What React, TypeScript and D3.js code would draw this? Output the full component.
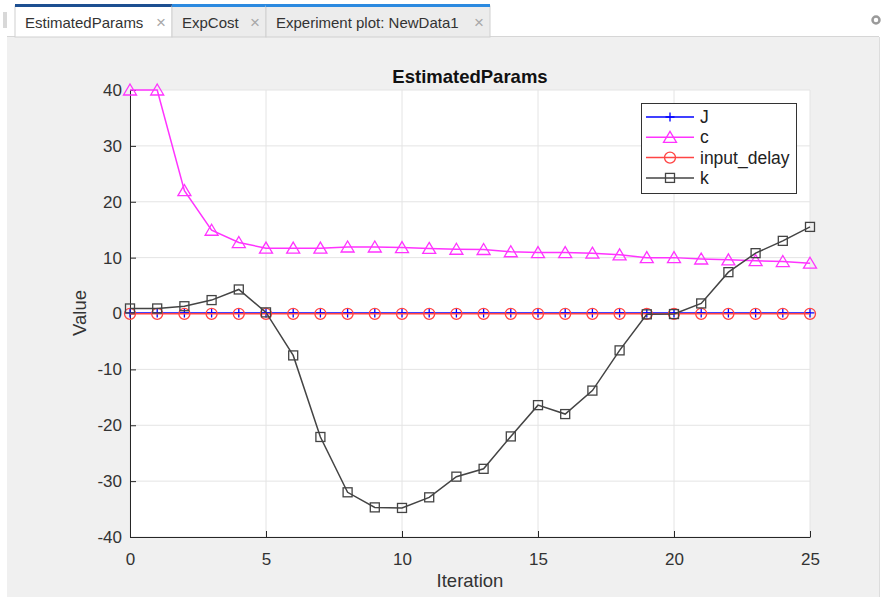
import * as d3 from "d3";
import { useEffect, useRef } from "react";

// data
const iterations = [0, 1, 2, 3, 4, 5, 6, 7, 8, 9, 10, 11, 12, 13, 14, 15, 16, 17, 18, 19, 20, 21, 22, 23, 24, 25];
const jValues = [0.1, 0.1, 0.1, 0.1, 0.1, 0.1, 0.1, 0.1, 0.1, 0.1, 0.1, 0.1, 0.1, 0.1, 0.1, 0.1, 0.1, 0.1, 0.1, 0.1, 0.1, 0.1, 0.1, 0.1, 0.1, 0.1];
const cValues = [40, 40, 22, 14.9, 12.7, 11.7, 11.7, 11.7, 11.9, 11.9, 11.8, 11.65, 11.5, 11.45, 11.05, 10.9, 10.9, 10.8, 10.5, 10.0, 10.0, 9.75, 9.6, 9.45, 9.3, 9.0];
const inputDelayValues = [-0.05, -0.05, -0.05, -0.05, -0.05, -0.05, -0.05, -0.05, -0.05, -0.05, -0.05, -0.05, -0.05, -0.05, -0.05, -0.05, -0.05, -0.05, -0.05, -0.05, -0.05, -0.05, -0.05, -0.05, -0.05, -0.05];
const kValues = [0.9, 0.9, 1.3, 2.4, 4.3, 0.2, -7.5, -22.1, -32.0, -34.7, -34.8, -32.9, -29.2, -27.8, -22.0, -16.4, -18.0, -13.8, -6.6, -0.15, -0.1, 1.8, 7.4, 10.8, 13.0, 15.5];

const xTicks = [0, 5, 10, 15, 20, 25];
const yTicks = [-40, -30, -20, -10, 0, 10, 20, 30, 40];
const tabLabels = ["EstimatedParams", "ExpCost", "Experiment plot: NewData1"];

type Marker = "plus" | "triangle" | "circle" | "square";

const series: { name: string; values: number[]; color: string; marker: Marker }[] = [
  { name: "J", values: jValues, color: "#0000ff", marker: "plus" },
  { name: "c", values: cValues, color: "#ff33ff", marker: "triangle" },
  { name: "input_delay", values: inputDelayValues, color: "#ff4444", marker: "circle" },
  { name: "k", values: kValues, color: "#444444", marker: "square" },
];

const FONT = "'Liberation Sans', Arial, Helvetica, sans-serif";

function drawMarker(sel: d3.Selection<SVGGElement, unknown, null, undefined>, marker: Marker, x: number, y: number, color: string) {
  if (marker === "plus") {
    sel.append("path")
      .attr("d", `M${x - 4.5},${y}H${x + 4.5}M${x},${y - 4.5}V${y + 4.5}`)
      .attr("stroke", color).attr("stroke-width", 1.3).attr("fill", "none");
  } else if (marker === "triangle") {
    sel.append("path")
      .attr("d", `M${x},${y - 6}L${x + 6.5},${y + 5}L${x - 6.5},${y + 5}Z`)
      .attr("stroke", color).attr("stroke-width", 1.3).attr("fill", "none");
  } else if (marker === "circle") {
    sel.append("circle")
      .attr("cx", x).attr("cy", y).attr("r", 5.5)
      .attr("stroke", color).attr("stroke-width", 1.3).attr("fill", "none");
  } else {
    sel.append("rect")
      .attr("x", x - 4.5).attr("y", y - 4.5).attr("width", 9).attr("height", 9)
      .attr("stroke", color).attr("stroke-width", 1.3).attr("fill", "none");
  }
}

export default function App() {
  const svgRef = useRef<SVGSVGElement>(null);

  useEffect(() => {
    if (!svgRef.current) return;
    const width = 889;
    const height = 599;
    const svg = d3.select(svgRef.current);
    svg.selectAll("*").remove();

    // window background
    svg.append("rect").attr("width", width).attr("height", height).attr("fill", "#ffffff");
    svg.append("rect").attr("x", 7).attr("y", 37).attr("width", 872).attr("height", 560).attr("fill", "#f0f0f0");
    svg.append("line").attr("x1", 7).attr("x2", 879).attr("y1", 36.5).attr("y2", 36.5).attr("stroke", "#d6d6d6");
    svg.append("line").attr("x1", 879.5).attr("x2", 879.5).attr("y1", 37).attr("y2", 597).attr("stroke", "#dddddd");

    // grip at left
    svg.append("rect").attr("x", 3).attr("y", 12).attr("width", 4).attr("height", 16).attr("fill", "#d8d8d8");

    // tabs
    const tabBounds = [[15, 172], [172, 266], [266, 490]];
    const tabs = svg.append("g");
    tabLabels.forEach((label, i) => {
      const [x0, x1] = tabBounds[i];
      const active = i === 0;
      tabs.append("rect").attr("x", x0).attr("y", 6).attr("width", x1 - x0).attr("height", 31)
        .attr("fill", active ? "#ffffff" : "#ececec").attr("stroke", "#d0d0d0").attr("stroke-width", 1);
      tabs.append("rect").attr("x", x0).attr("y", 4).attr("width", x1 - x0).attr("height", 3)
        .attr("fill", active ? "#1d4f91" : "#2b8ae0");
      tabs.append("text").attr("x", x0 + 10).attr("y", 28)
        .attr("font-family", FONT).attr("font-size", 15).attr("fill", "#333333").text(label);
      tabs.append("text").attr("x", x1 - 11).attr("y", 28).attr("text-anchor", "middle")
        .attr("font-family", FONT).attr("font-size", 17).attr("fill", "#a8a8a8").text("\u00d7");
    });

    // settings icon top right
    svg.append("circle").attr("cx", 876).attr("cy", 20).attr("r", 3.5)
      .attr("fill", "none").attr("stroke", "#9a9a9a").attr("stroke-width", 2.5);

    // axes
    const x = d3.scaleLinear().domain([0, 25]).range([130, 810]);
    const y = d3.scaleLinear().domain([-40, 40]).range([537, 90]);

    svg.append("rect").attr("x", 130).attr("y", 90).attr("width", 680).attr("height", 447).attr("fill", "#ffffff");

    const grid = svg.append("g");
    grid.selectAll("line.gx").data(xTicks).enter().append("line")
      .attr("x1", (d) => x(d)).attr("x2", (d) => x(d)).attr("y1", 90).attr("y2", 537)
      .attr("stroke", "#e4e4e4").attr("stroke-width", 1);
    grid.selectAll("line.gy").data(yTicks).enter().append("line")
      .attr("x1", 130).attr("x2", 810).attr("y1", (d) => y(d)).attr("y2", (d) => y(d))
      .attr("stroke", "#e4e4e4").attr("stroke-width", 1);

    const xAxis = svg.append("g").attr("transform", "translate(0,537)")
      .call(d3.axisBottom(x).tickValues(xTicks).tickSize(-6).tickSizeOuter(0).tickPadding(16).tickFormat((d) => String(d)));
    const yAxis = svg.append("g").attr("transform", "translate(130,0)")
      .call(d3.axisLeft(y).tickValues(yTicks).tickSize(-6).tickSizeOuter(0).tickPadding(8).tickFormat((d) => String(d)));
    [xAxis, yAxis].forEach((ax) => {
      ax.select(".domain").attr("stroke", "#262626").attr("stroke-width", 1);
      ax.selectAll(".tick line").attr("stroke", "#262626");
      ax.selectAll("text").attr("font-family", FONT).attr("font-size", 17).attr("fill", "#333333");
    });

    // series
    const line = d3.line<number>().x((_, i) => x(iterations[i])).y((d) => y(d));
    const plot = svg.append("g");
    series.forEach((s) => {
      plot.append("path").attr("d", line(s.values)!).attr("fill", "none")
        .attr("stroke", s.color).attr("stroke-width", 1.5);
      const mg = plot.append("g");
      s.values.forEach((v, i) => drawMarker(mg, s.marker, x(iterations[i]), y(v), s.color));
    });

    // labels
    svg.append("text").attr("x", 470).attr("y", 83).attr("text-anchor", "middle")
      .attr("font-family", FONT).attr("font-size", 18.5).attr("font-weight", "bold").attr("fill", "#111111")
      .text("EstimatedParams");
    svg.append("text").attr("x", 470).attr("y", 587).attr("text-anchor", "middle")
      .attr("font-family", FONT).attr("font-size", 18.5).attr("fill", "#333333").text("Iteration");
    svg.append("text").attr("transform", "translate(86,313) rotate(-90)").attr("text-anchor", "middle")
      .attr("font-family", FONT).attr("font-size", 18.5).attr("fill", "#333333").text("Value");

    // legend
    const legend = svg.append("g");
    legend.append("rect").attr("x", 641.5).attr("y", 103.5).attr("width", 155).attr("height", 90)
      .attr("fill", "#ffffff").attr("stroke", "#333333").attr("stroke-width", 1);
    series.forEach((s, i) => {
      const ly = 117 + i * 20.3;
      legend.append("line").attr("x1", 646).attr("x2", 694).attr("y1", ly).attr("y2", ly)
        .attr("stroke", s.color).attr("stroke-width", 1.5);
      drawMarker(legend, s.marker, 670, ly, s.color);
      legend.append("text").attr("x", 700).attr("y", ly + 6)
        .attr("font-family", FONT).attr("font-size", 17.5).attr("fill", "#222222").text(s.name);
    });
  }, []);

  return (
    <div style={{ position: "fixed", left: 0, top: 0, width: 889, height: 599 }}>
      <svg ref={svgRef} width={889} height={599} style={{ display: "block" }} />
    </div>
  );
}
